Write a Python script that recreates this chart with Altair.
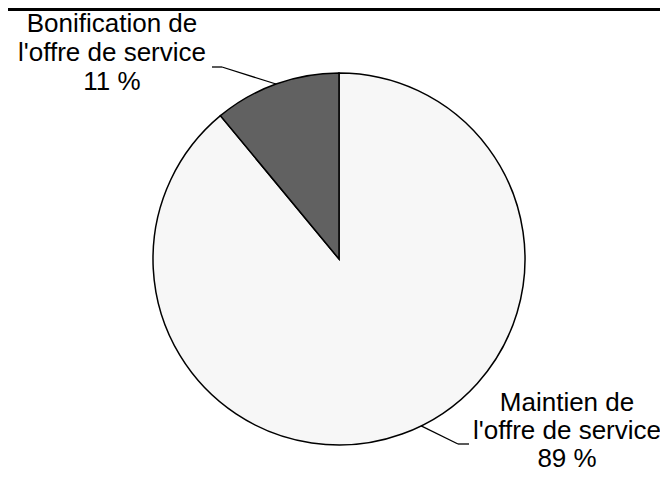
import altair as alt
import pandas as pd

# ---- data ----
categories = ["Maintien de l'offre de service", "Bonification de l'offre de service"]
values = [89, 11]
pct_labels = ["89 %", "11 %"]

# ---- layout / style ----
W, H = 652, 465
CX, CY, R = 331, 251, 186
FONT = "Liberation Sans"
FILL_LIGHT, FILL_DARK = "#f7f7f7", "#616161"

df = pd.DataFrame({
    "category": categories,
    "value": values,
    "pct": pct_labels,
    "idx": list(range(len(categories))),
})
df["label"] = [c.replace(" de l'", " de\nl'") + "\n" + p for c, p in zip(categories, pct_labels)]

base = alt.Chart(df)

pie = base.mark_arc(radius=R, stroke="black", strokeWidth=1.5).encode(
    theta=alt.Theta("value:Q", stack=True),
    order=alt.Order("idx:Q"),
    color=alt.Color("category:N",
                    scale=alt.Scale(domain=categories, range=[FILL_LIGHT, FILL_DARK]),
                    legend=None),
    x=alt.value(CX),
    y=alt.value(CY),
)

leader_base = base.transform_window(
    cum="sum(value)", sort=[alt.SortField("idx")], frame=[None, 0]
).transform_joinaggregate(total="sum(value)")


def leader(cat, frac, ex, ey, hx):
    src = leader_base.transform_filter(alt.datum.category == cat).transform_calculate(
        ang=f"2*PI*((datum.cum - datum.value) + {frac}*datum.value)/datum.total"
    ).transform_calculate(
        ax=f"{CX} + {R}*sin(datum.ang)",
        ay=f"{CY} - {R}*cos(datum.ang)",
    )
    diag = src.mark_rule(color="black", strokeWidth=1.3).encode(
        x=alt.X("ax:Q", scale=None, axis=None),
        y=alt.Y("ay:Q", scale=None, axis=None),
        x2=alt.value(ex),
        y2=alt.value(ey),
    )
    horiz = src.mark_rule(color="black", strokeWidth=1.3).encode(
        x=alt.value(ex), x2=alt.value(hx), y=alt.value(ey)
    )
    return diag + horiz


def label(cat, x, y, lh):
    return base.transform_filter(alt.datum.category == cat).mark_text(
        font=FONT, fontSize=26, lineBreak="\n", lineHeight=lh,
        align="center", baseline="alphabetic", color="black",
    ).encode(text="label:N", x=alt.value(x), y=alt.value(y))


frame = alt.Chart(pd.DataFrame({"k": [0]})).mark_rule(color="black", strokeWidth=3).encode(
    x=alt.value(0), x2=alt.value(W), y=alt.value(1.5)
)

chart = alt.layer(
    pie,
    leader("Bonification de l'offre de service", 0.5, 214, 59, 204),
    leader("Maintien de l'offre de service", 0.48, 450, 436, 461),
    label("Bonification de l'offre de service", 104, 24, 29),
    label("Maintien de l'offre de service", 559, 403, 28),
    frame,
).properties(
    width=W, height=H, padding=0,
    autosize=alt.AutoSizeParams(type="none"),
).configure_view(stroke=None)

chart.save("out.html", embed_options={"renderer": "svg", "actions": False})
